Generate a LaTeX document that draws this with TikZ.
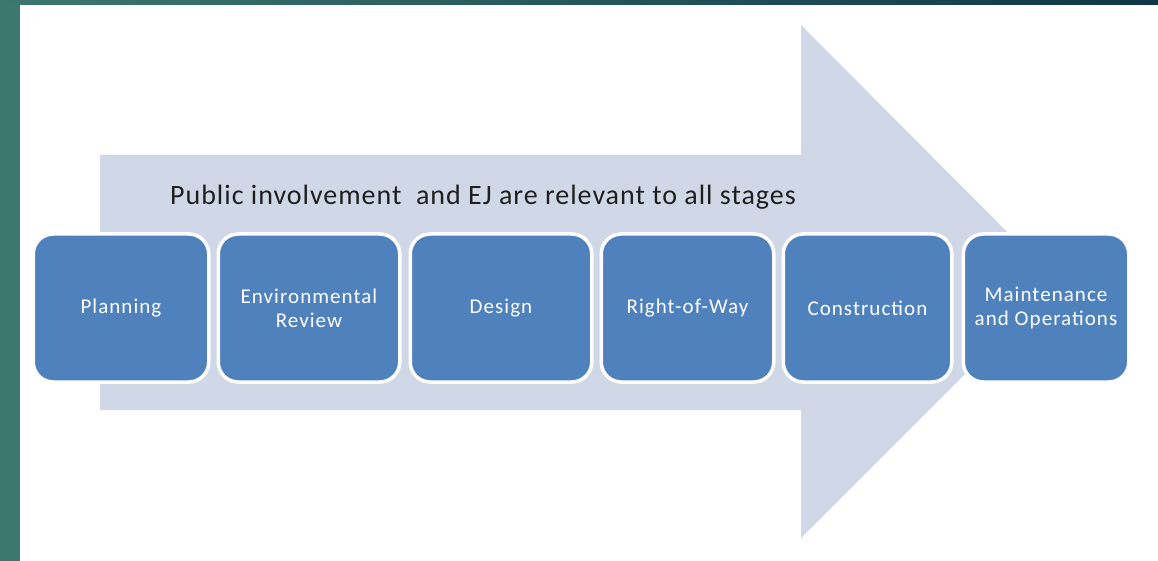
\documentclass[tikz,border=0pt]{standalone}
\usepackage{fontspec}
\setmainfont{Carlito}
\usetikzlibrary{positioning}
\begin{document}
\begin{tikzpicture}[x=1pt, y=-1pt]
        % colours
        \definecolor{stageblue}{RGB}{79, 129, 189}
        \definecolor{arrowgray}{RGB}{208, 216, 232}
        \definecolor{frameteal}{RGB}{60, 120, 110}
        \definecolor{framedark}{RGB}{17, 54, 69}
        \tikzset{stage/.style={draw=white, line width=3.5pt, fill=stageblue, rounded corners=20pt,
            text=white, font=\fontsize{21}{24}\selectfont\addfontfeature{LetterSpace=5},
            align=center, inner sep=0pt, minimum height=148pt}}

        % frame and background
        \fill[white] (0,0) rectangle (1158,561);
        \fill[frameteal] (0,0) rectangle (20,561);
        \shade[left color=frameteal, right color=framedark] (0,0) rectangle (1158,5);

        % 1. big arrow behind the stages
        \fill[arrowgray] (100,155) -- (801,155) -- (801,25) -- (1057,282)
            -- (801,538) -- (801,410) -- (100,410) -- cycle;

        % 2. heading on the arrow
        \node[font=\fontsize{28}{30}\selectfont\addfontfeature{LetterSpace=3.5}, text=black!88]
            (title) at (483,197) {Public involvement\ \ and EJ are relevant to all stages};

        % 3. the six stages
        \foreach \name/\cx/\w/\txt in {plan/121/172/Planning, envrev/309/178/{Environmental\\Review},
            design/501/178/Design, row/687.5/169/Right-of-Way, constr/867.5/165/Construction,
            maint/1046/162/{Maintenance\\and Operations}} {
            \node[stage, minimum width=\w pt + 3.5pt] (\name) at (\cx,308) {\txt};
        }
    \end{tikzpicture}
\end{document}
